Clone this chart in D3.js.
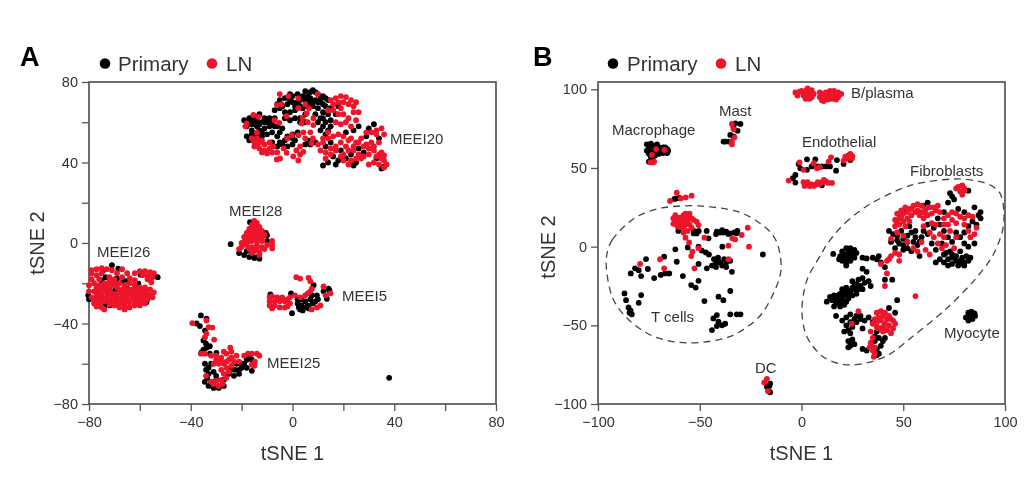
<!DOCTYPE html>
<html><head><meta charset="utf-8">
<script src="https://cdn.jsdelivr.net/npm/d3@7/dist/d3.min.js"></script>
<style>html,body{margin:0;padding:0;background:#fff}svg{display:block;filter:blur(0.55px)}text{font-family:"Liberation Sans",Arial,sans-serif;fill:#333}</style>
</head><body><svg id="c" width="1024" height="486"></svg>
<script>
const seriesNames=["Primary","LN"];
const colors=["#000000","#ee1429"];
// Panel A
const aXTicks=[-80,-60,-40,-20,0,20,40,60,80], aXLabels=[-80,-40,0,40,80];
const aYTicks=[-80,-60,-40,-20,0,20,40,60,80], aYLabels=[-80,-40,0,40,80];
const aPrimary=[
[-3,72],[0,73],[2,74],[4,73],[5,75.5],[7,75],[8,76],[9,75],[10,74],[12,73],[13,72],[14,71],[-5,71],[-6,69],[-4,68],[-7,66],[-2,69],[0,70],[2,70],[3,71],[5,71],[7,72],[9,71],[11,70],[13,68],[15,67],[4,67],[6,68],[8,68],[10,67],[12,65],[14,64],[1,66],[-1,65],[-3,65],[1,62],[3,62],[5,64],[11,62],[13,60],[12,58],[14,56],[11,56],[13,54],[15,61],[17,64],[18,68],[3,60],[5,60],[-1,74],[6,73],[11,72],
[-19,61],[-18,58],[-17,60],[-16,62],[-15,63],[-13,64],[-12,60],[-14,58],[-16,56],[-13,56],[-11,57],[-10,60],[-9,58],[-8,55],[-7,62],[-6,58],[-10,54],[-12,53],[-18,53],[-17,51],[-15,52],[-5,55],[-4,57],[-8,50],[-6,48],[-4,49],[-2,48],[0,49],[-2,53],[0,54],[2,55],[1,51],[5,49],[7,49],[9,50],[-17,62],[-14,61],[-11,62],[-8,60],[-5,50],
[12,38.5],[14,40],[17,39],[18,41],[16,43],[24,38.5],[25,40],[21,42],[23,44],[19,46],[26,47],[21,55],[24,56],[26,58],[30,57],[32,59],[29,53],[34,52],[36,38],[33,42],[35,37],[28,45],[13,48],[15,50],
[-24.3,-0.6],[-21,-5],[-19,-6],[-17,-7],[-15,-7.5],[-14,-7],[-13,-7.8],[-16,-6],[-18,-4],[-16.7,10.3],[-15,10],[-10.5,5],[-10,1],[-10,3.8],[-18.5,2],
[-71,-11],[-68.5,-12.8],[-74.4,-13.6],[-75,-18.6],[-73.5,-17],[-69,-17.7],[-66.5,-18.6],[-64.5,-18.6],[-60.6,-20.2],[-59.7,-15.8],[-53,-17],[-57.4,-29.4],[-73.7,-31],[-71.8,-31],[-69,-30],[-80.3,-26],[-69.8,-23.6],[-65,-22.7],[-80,-28],
[-36,-36],[-33.8,-37.6],[-37.7,-40],[-36.4,-41.3],[-34.4,-43.5],[-35,-48.4],[-32.5,-51.3],[-35.8,-54.3],[-33.8,-52],[-32.5,-55],[-29.9,-54.6],[-34,-50],[-35,-53],
[-22.6,-63],[-21,-65],[-20,-62],[-19,-60],[-18,-58],[-17,-57],[-16,-58],[-20,-60],[-18,-62],[-16,-63.5],[-22,-60],[-24,-63],[-25,-65],[-23,-66],[-21,-63],[-34.4,-60],[-33,-62],[-32,-60],[-34,-63],[-33,-65],[-31,-64],[-30,-66],[-33.5,-67],[-34.5,-69],[-33,-71],[-31,-72],[-29,-72],[-27,-71],[-27,-68],[-30,-68],[-32,-69],
[-0.6,-25],[-8.7,-25.5],[-0.2,-34.9],[8.3,-21],[14.2,-22.7],[9.6,-26],[7.6,-26],[13.5,-27.7],[12.2,-24],[2,-28],[3.5,-28],[5,-29],[7,-28],[9,-29],[2,-30],[3.5,-31],[5,-32],[3,-33],[6,-31],[8,-30],[4,-33.5],[2.5,-32],[6.5,-32.5],[10,-28],[14.5,-23.5],[38,-67],
[-1,71],[1,68],[3,68],[6,70],[8,70],[10,70],[12,69],[-5,67],[-3,62],[-1,61],[9,64],[10,60],[12,62],[15,58],[-15,60],[-13,59],[-11,60],[-9,62],[-7,58],[-18,60],[-16,59],[-14,54],[-16,54],[-12,55],[-6,53],[-3,51],[0,52],[6,51]
];
const aLN=[
[-5,74],[-1.6,73],[2.3,72],[9.9,74],[-4.3,69],[-6,68.5],[-15.4,63.6],[-13.4,62.7],[-18,59.4],[-18.5,58],[-7.1,61],[-5.2,59.7],[-2.3,63],[-14,54.8],
[-16,52],[-15,50],[-14,52],[-13,50],[-12,51],[-11,49],[-15,48],[-13,47],[-11,46],[-9,47],[-9,50],[-8,45],[-12,45],[-14,48.5],[-10,44.5],[-7.5,48],[-6,45],[-6.2,41.5],[-4.9,42],[-2.3,44.8],[0.3,43],[2.3,41],[4.3,45.3],[1.5,46],[3,44],[-3.5,47],
[5.6,64.4],[8.2,62],[6.5,67],[2.3,67],[3.6,59.4],[8.2,58.6],[4.3,55],[7.5,49.5],[2.3,53.6],[-0.3,53.6],[-2,52],[3,48],[5,52],[7,55],[8,52],[5,69],[4,62],[6,60],
[15,71],[17,72],[19,73],[21,72.5],[23,71],[25,70],[16,69],[18,70],[20,70],[22,69],[24,68],[19,67],[26,65],[24,65],[14,66],[16,66],[12,52],[14,52],[18,64],[20,64],[22,62],[17,60],[19,59],[21,60],[23,58],[25,61],
[10,49],[12,50],[11,46],[13,45],[15,47],[17,48],[19,50],[21,48],[23,52],[25,50],[27,52],[29,49],[31,50],[18,54],[20,53],[22,51],[24,48],[26,50],[28,48],[30,47],[32,48],[34,50],[36,54],[35,57],[33,56],[31,55],[29,55],[33,54],[16,53],[14,55],
[13,42],[15,44],[17,46],[20,44],[22,46],[24,46],[26,44],[28,43],[30,44],[32,46],[34,44],[35,42],[36,41],[37,39],[36,37.5],[34,39],[32,40],[30,39],[27,42],[25,42],[22,39],[20,41],[19,43],[23,41],[35,45],[33,43],[36,43.5],
[-21,-3],[-20,0],[-19,3],[-18,5],[-17,7],[-16,9],[-15,11],[-14,10],[-13,8],[-12,6],[-11,4],[-16,6],[-15,8],[-14,7],[-17,3],[-15,4],[-13,3],[-12,1],[-14,1],[-16,1],[-18,-1],[-16,-2],[-14,-2],[-12,-2],[-15,-4],[-13,-4.5],[-11,-3],[-10,-1],[-17,-3],[-8,-1],[-8,-2.7],[-8,1],[-14,5],[-16,-5],[-13,-6],[-18,2],[-19,0],[-20,-2],[-17,1],[-15,2],[-13,5],[-15,6],[-17,5],[-14,-1],[-12,3],[-16,3.5],[-14,3],
[-79,-15],[-77,-13],[-75,-12.5],[-73,-13],[-71,-13.5],[-69,-15],[-67,-13],[-65,-15],[-79,-18],[-80,-21],[-78,-20],[-76,-21],[-74,-20],[-72,-19],[-70,-20],[-68,-20],[-66,-21],[-64,-20],[-62,-21],[-60,-22],[-58,-22],[-56,-23],[-80,-24],[-78,-24],[-76,-24],[-74,-23],[-72,-23],[-70,-26],[-68,-24],[-66,-25],[-64,-24],[-62,-25],[-60,-25],[-58,-25],[-56,-26],[-54.5,-24.5],[-79,-27],[-77,-27],[-75,-27],[-73,-27],[-71,-28],[-69,-27],[-67,-27],[-65,-28],[-63,-27],[-61,-28],[-59,-28],[-57,-28],[-55,-27],[-78,-30],[-76,-30],[-75,-32],[-72,-29],[-70,-29],[-68,-30],[-66,-31],[-64,-32],[-62,-31],[-60,-31],[-58,-30],[-60,-14],[-58,-14],[-56,-14.5],[-54.5,-15],[-59,-16],[-57,-16.5],[-55,-17],[-57,-18],[-55.5,-19.5],[-62,-15],[-74,-33],[-66,-33],
[-77,-22],[-75,-22],[-73,-21],[-71,-21],[-69,-22],[-67,-23],[-65,-23],[-63,-23],[-61,-23],[-59,-23.5],[-57,-24],[-77,-25.5],[-75,-25.5],[-73,-25],[-71,-25],[-69,-25],[-67,-25.5],[-65,-26],[-63,-25.5],[-61,-26.5],[-59,-26.5],[-57,-26.5],[-78,-28.5],[-76,-28.5],[-74,-29],[-72,-27],[-70,-28],[-68,-28.5],[-66,-29],[-64,-29.5],[-62,-29],[-60,-29.5],[-77,-31.5],[-72,-30.5],[-70,-31],[-68,-32],[-76,-18],[-72,-17],[-70,-18],[-67,-17],[-64,-17.5],[-62,-18.5],[-77,-16],[-75,-15],[-79,-13.5],
[-39.4,-39.8],[-33.8,-38.5],[-33,-41.8],[-31.5,-42],[-33.8,-45],[-34.4,-46.8],[-30.8,-48],[-34.4,-55],[-36,-55],
[-32,-56],[-30,-58],[-28,-57],[-26,-55],[-24,-54],[-22,-56],[-21,-59],[-23,-59],[-25,-58],[-27,-60],[-29,-60],[-31,-60],[-26,-62],[-24,-61],[-25,-64],[-26,-67],[-27,-65],[-28,-63],[-24.5,-52],[-27,-54],[-30,-56],[-28,-59],[-26,-59],[-24,-57],
[-19,-56],[-17.5,-55],[-16,-55],[-14,-55],[-13,-56],[-14.8,-59],[-15,-61],[-16,-60.5],
[-32,-69],[-31,-70],[-29,-71],[-27.5,-70],[-30,-68.5],[-28,-68],[-34,-66],
[-9,-27],[-8,-26.5],[-6,-27],[-4,-27],[-2,-28],[-9,-29],[-7,-29],[-5,-29],[-3,-29],[-1,-30],[-9,-31],[-7,-31],[-5,-32],[-3,-32],[-2,-31.5],[-8,-32.5],[3,-17.7],[1.5,-17],[6.3,-17.3],[7,-19],[7.6,-22.7],[7,-24],[12.2,-21.6],[1,-26],[3,-27],[5,-26],[-1,-27],[14.9,-25],[9.6,-32],[11,-31],[7.5,-33],[13,-26],[6,-25]
];
// Panel B
const bXTicks=[-100,-50,0,50,100], bYTicks=[-100,-50,0,50,100];
const bPrimary=[
[-76,65],[-75,63],[-74,65.5],[-73,64],[-72,62],[-76,61],[-75,59],[-73,60],[-71,65],[-70,63],[-69,62],[-68,63],[-67,63],[-66,62],[-65.5,61],[-66,59.5],[-68,59.5],[-70,59],[-72,58],[-74,57],[-73,55],[-75,54],[-74.5,60.5],[-71,60],[-69,61],
[-32.5,78.4],[-30,78],[-33.4,75.7],[-31.4,73.6],[-35,71],[-33.4,70],[-37.5,66.8],[-35.8,66.8],[-38.3,66.8],
[2.7,55.5],[6.8,55.5],[-1.4,52.6],[-0.6,49.8],[10,51],[14,51],[17.4,55],[17,48.3],[2.7,48.8],[24,55],[20.7,52.6],[-3,45.6],[-4.2,43.5],[-3,40.7],[10,39],[5,51],[8,51],[12,51],
[-61.3,30.7],[-62.4,30.3],[-60,31],
[-52.3,9.5],[-51.5,8.4],[-53,8.4],[-60.5,10],[-46.6,10],[-45.7,5.3],[-41.6,9.5],[-40,9],[-38.5,9],[-37,9.5],[-35,8.5],[-33,9],[-31.8,8.5],[-31.5,10],[-42,8],[-39,10.5],[-36,8],[-50.5,10],[-53,10],
[-62,-1.7],[-55.9,-0.5],[-38.9,0],[-50.6,0],[-49,-2.5],[-47,-3.7],[-45.5,-5],[-19,-5],[-67.5,-6.4],[-76.4,-7.9],[-61.3,-9.6],[-50.6,-11],[-46.5,-13.8],[-43,-8],[-42,-10],[-41,-7],[-44,-12],[-42,-13],[-40,-10],[-38,-8],[-37,-10],[-39,-12],[-36,-8.5],[-35,-9],[-37,-13],[-34.2,-16],
[-81.8,-13.8],[-80,-15],[-83.9,-17],[-75.5,-14.2],[-78.8,-18.7],[-72.4,-20],[-69.2,-18],[-67,-17],[-65,-17],[-58.3,-18.7],[-54.2,-24.4],[-52,-26],[-50.6,-21.7],[-87,-29.7],[-86.2,-34],[-78.8,-30.8],[-80,-35.7],[-47.7,-34.6],[-40.8,-31.8],[-38.4,-34],[-35,-28.2],[-85,-38.6],[-84,-40.7],[-83.4,-43],[-84.5,-42],[-35,-43],[-31.8,-43],[-30,-43],[-41.6,-43.5],[-43.3,-45.6],[-40.8,-47.7],[-39,-50],[-41.6,-50.5],[-37.5,-49],[-44,-53],
[-15.4,-87],[-17,-89],[-15.4,-92.6],[-16,-92],[-15.8,-88.5],
[80.8,-45],[82,-42],[83.5,-41.3],[85,-42.5],[85.3,-44],[84,-46],[82,-47],[83,-44],
// fibroblast lower-left
[15.6,-4.6],[19,-6],[20,-3],[22,-1],[24,-1],[26,-2],[27,-4],[26,-7],[24,-9],[22,-11],[20,-9],[21,-5],[23,-4],[25,-5],[23,-7],[22,-12],[18.5,-8],[30,-7],[32,-7.5],[35,-7],[37,-8],[39,-10],[41,-13],[38,-6],[21,-7.5],[24,-3],[22,-9],[24,-6],
[12.4,-35],[15,-34],[14,-32],[16,-31],[18,-33],[17,-36],[19,-35],[21,-37],[20,-32],[19,-30],[20,-27],[22,-26],[24,-28],[25,-31],[23,-33],[21,-30],[23,-29],[26,-27],[27,-24],[25,-22],[28,-21],[30,-20],[32,-16],[30,-14],[31,-23],[29,-25],[27,-30],[30,-27],[33,-22],[34,-25],[16,-38],[19,-38],[17,-44],[22,-31],[24,-30],[20,-34],[22,-35],[18,-31],[16,-34],[26,-25],[28,-27],[22,-28],[25,-26],
[20,-47],[22,-45],[24,-43],[27,-44],[29,-46],[31,-47],[33,-45],[35,-48],[27,-48],[25,-51],[23,-53],[21,-54],[24,-55],[22,-50],[30,-52],[23,-60],[25,-59],[26,-62],[24,-63],[23,-64],[30,-65],[32,-66],[36,-57],[38,-58],[40,-60],[39,-63],[37,-65],[38,-68],[36,-60],[37,-54],[41,-58],[37,-69],[41,-53],[43,-39],[46,-42],[26,-46],[24,-48],[29,-44],[24,-61],
[41,-21],[44.6,-21],[47,-34],
// fibroblast upper
[82,35.6],[73,34],[74,32],[75,30],[50,22],[60,26],[62,28],[70,22],[77,24],[80,22],[85,25],[88,22],[88,18],[86,14],[87,20],[72,28],
[43,10],[45,8],[47,7],[50,5],[52,7],[54,9],[56,10],[48,2],[50,-2],[52,-1],[54,-3],[55,3],[57,1],[59,6],[60,10],[46,-1],[49,10],[44,3],[53,13],[58,-6],[62,8],[65,12],[68,14],[70,10],[72,6],[74,3],[76,9],[78,6],[64,2],[66,-2],[69,2],[71,-4],[73,-3],[62,14],[67,18],[80,9],[82,13],[84,16],
[68,-8],[70,-5],[72,-8],[74,-7],[76,-9],[78,-11],[80,-10],[82,-9],[83,-7],[79,-7],[81,-6],[66,-10],[70,-10],[74,-11],[77,-12],[80,-12],[72,-12],[78,-9],[85,2],[82,0],[80,2],[78,-3],[52,3],[50,1],[47,4],[56,6],[58,3],[76,-6],[74,-5]
];
const bLN=[
[-71.4,62],[-67.4,61.5],[-73.5,58.3],[-74.3,53.6],[-72.4,54],[-73,53.5],
[-34.2,78],[-33.4,74.6],[-32.9,69.5],[-34.2,66.8],[-34.2,65],
[-6.3,42],[-1,53.6],[1,48.8],[6,53],[7.6,49.8],[9,50.5],[14.5,56.8],[13.3,54],[24,59],[24.8,56],[22.3,56],[20.7,54.7],[21.5,57.2],[23,58],[25,57.5],
[1,41],[2,39.5],[3,41],[5,39.5],[7,39.5],[8,41],[10,41],[12,41.5],[13,40.5],[15,40.5],[1.5,38.6],[4,38.5],[6,38.6],[9,39.6],[11,42.5],
[-3,98],[-2,96],[-1,98.5],[0,99],[1,96],[2,99],[2,94],[3,97],[3,100.5],[4,98],[5,99.5],[5,95],[6,97],[4,94],
[9,98],[9,95],[10,93],[10,97],[12,98],[12,95],[11,92.5],[14,99],[14,96],[15,94],[16,99],[16,96],[18,98],[18,95],[19.5,97],[13,93.5],[17,93.5],
[-64.6,29],[-54,32.4],[-56.9,31.3],[-61.3,34.3],[-59.3,30.7],
[-63,18],[-62,20],[-61,17],[-60,18.5],[-59,15],[-58,20],[-57,21],[-56,19],[-55,21],[-54,18],[-53,17],[-62,15],[-61,13],[-60,12.5],[-58,12],[-57,14],[-56,16],[-55,14],[-54,12],[-58,9],[-56,10],[-59,17],[-57,17],[-63,14.5],[-60.5,15],
[-50.6,13.7],[-51.5,15.9],[-26.4,12],[-29.4,7.4],[-25.8,0],[-34,5.3],[-32.6,4.6],[-35.9,0.6],[-35.9,-8],[-47.7,5.7],[-57,5.7],[-55.2,2.7],[-53.6,-3.2],[-54.2,-6],[-50.6,-1],[-52.6,-13.8],[-67.5,-13.8],[-69.5,-8],[-79.3,-11],
[-18.3,-86.3],[-17,-84],[-16.5,-91.8],
[37,-42],[39,-41],[41,-42],[43,-44],[38,-45],[40,-44],[42,-46],[44,-46],[46,-49],[37,-48],[39,-47],[41,-49],[43,-50],[45,-52],[38,-52],[40,-51],[42,-53],[44,-55],[37,-51],[40,-54],[36,-46],[45,-47],[35,-49],[34,-54],[35,-58],[34,-61],[34.5,-63],[36,-64],[35,-66],[36,-68],[35.5,-70],[33.5,-64],
[42,-17],[41,-25],[56,-31.4],[28,-41],[24.7,-49],
[77,38],[79,39],[80,37],[78,35],[79,33],[76,37],[80,35.5],
[46,17],[47,21],[49,23],[51,25],[53,24],[55,26],[57,27],[59,26],[61,24],[63,25],[65,25],[67,26],[46,13],[48,14],[50,16],[52,18],[54,20],[56,22],[58,20],[60,18],[62,20],[64,21],[49,19],[51,13],[53,16],[47,9],[66,23],[68,22],[70,18],[72,20],[74,22],[76,21],[78,19],[80,18],[82,20],[84,19],[86,12],[74,17],[72,14],[70,14],[76,15],[80,14],[64,15],[66,14],[60,13],[63,9],[68,8],[70,6],[73,10],[76,6],[67,2],[65,6],[71,1],[69,-1],[75,-1],[43,-8],[42,-9],[46,-4],[48,-5],[52,3],[55,-1],[57,-3],[44,5],[50,7],[39,-11],[61,-2],[63,-5],[59,3],[85,8],[83,6],[82,10],[48,-9],[44,-6],[48,18],[50,21],[52,22],[54,24],[57,23],[59,22],[61,21],[47,15]
];
const tCellOutline=[[-96,-10.4],[-93,4.3],[-82,18.2],[-68.6,24.6],[-50.4,25.9],[-30.7,22],[-18,12.5],[-12,2.4],[-10,-13.5],[-13,-27.5],[-20.9,-44.7],[-35.6,-57.4],[-55.3,-61.2],[-72,-57.4],[-84.8,-46.6],[-93,-32]];
const fibroOutline=[[13.5,3.2],[21.4,15],[34.6,27.8],[54.3,39.2],[75.4,43],[90.2,40.5],[97.5,34],[99.5,21.4],[98.5,8.7],[93.6,-6.5],[83.8,-23],[70.5,-40.2],[54.3,-57.4],[41,-70],[24.8,-75.2],[11.5,-70.8],[2.7,-57.4],[0.2,-40.2],[2.7,-21.2],[10,-4]];
const aClusterLabels=["MEEI20","MEEI28","MEEI26","MEEI5","MEEI25"];
const bClusterLabels=["Macrophage","Mast","B/plasma","Endothelial","Fibroblasts","T cells","Myocyte","DC"];
const aLabelPos=[[390,144],[229,216],[97,257],[342,301],[267,368]];
const bLabelPos=[[612,135],[719,116],[851,98],[802,147],[910,176],[651,322],[944,338],[755,373]];

const svg=d3.select("#c");
const fmt=d=>String(d).replace("-","\u2212");
const frameColor="#555";
function panel(o){
  const x=d3.scaleLinear().domain(o.xd).range([o.l,o.r]);
  const y=d3.scaleLinear().domain(o.yd).range([o.yb,o.yt]);
  const g=svg.append("g");
  const ax=g.append("g").attr("transform",`translate(0,${o.b})`).call(d3.axisBottom(x).tickValues(o.xt).tickSize(7).tickFormat(d=>o.xl.includes(d)?fmt(d):""));
  const ay=g.append("g").attr("transform",`translate(${o.l},0)`).call(d3.axisLeft(y).tickValues(o.yt2).tickSize(7).tickFormat(d=>o.yl.includes(d)?fmt(d):""));
  [ax,ay].forEach(a=>{a.select(".domain").remove();a.selectAll("line").attr("stroke",frameColor).attr("stroke-width",1.3);a.selectAll("text").attr("font-size",14.5).style("fill","#333").attr("font-family","Liberation Sans");});
  ax.selectAll("text").attr("y",13);
  ay.selectAll("text").attr("x",-11);
  g.append("rect").attr("x",o.l).attr("y",o.t).attr("width",o.r-o.l).attr("height",o.b-o.t).attr("fill","none").attr("stroke",frameColor).attr("stroke-width",1.7);
  g.append("text").attr("x",(o.l+o.r)/2).attr("y",460).attr("text-anchor","middle").attr("font-size",20).text("tSNE 1");
  g.append("text").attr("transform",`translate(${o.yTitleX},${o.yTitleY}) rotate(-90)`).attr("text-anchor","middle").attr("font-size",20).text("tSNE 2");
  g.append("text").attr("x",o.letterX).attr("y",66).attr("font-size",27).attr("font-weight","bold").style("fill","#000").text(o.letter);
  [[o.lx1,o.lt1,0],[o.lx2,o.lt2,1]].forEach(([cx,tx,i])=>{
    g.append("circle").attr("cx",cx).attr("cy",63.5).attr("r",5.3).attr("fill",colors[i]);
    g.append("text").attr("x",tx).attr("y",70.5).attr("font-size",20.5).text(seriesNames[i]);
  });
  o.series.forEach(([pts,i])=>{
    g.append("g").selectAll("circle").data(pts).join("circle").attr("cx",d=>x(d[0])).attr("cy",d=>y(d[1])).attr("r",2.9).attr("fill",colors[i]);
  });
  (o.outlines||[]).forEach(p=>{
    g.append("path").attr("d",d3.line().x(d=>x(d[0])).y(d=>y(d[1])).curve(d3.curveCardinalClosed.tension(0.1))(p)).attr("fill","none").attr("stroke","#444").attr("stroke-width",1.3).attr("stroke-dasharray","7 5");
  });
  o.labels.forEach((t,i)=>g.append("text").attr("x",o.pos[i][0]).attr("y",o.pos[i][1]).attr("font-size",15).text(t));
}
panel({xd:[-80,80],yd:[-80,80],l:89,r:496,t:82,b:404,yb:404,yt:82,xt:aXTicks,xl:aXLabels,yt2:aYTicks,yl:aYLabels,yTitleX:44,yTitleY:243,letterX:20,letter:"A",lx1:105,lt1:118,lx2:212,lt2:226,series:[[aPrimary,0],[aLN,1]],labels:aClusterLabels,pos:aLabelPos});
panel({xd:[-100,100],yd:[-100,100],l:598,r:1005,t:82,b:404,yb:404,yt:89.3,xt:bXTicks,xl:bXTicks,yt2:bYTicks,yl:bYTicks,yTitleX:555,yTitleY:247,letterX:533,letter:"B",lx1:613,lt1:627,lx2:721,lt2:735,series:[[bPrimary,0],[bLN,1]],outlines:[tCellOutline,fibroOutline],labels:bClusterLabels,pos:bLabelPos});
</script></body></html>
